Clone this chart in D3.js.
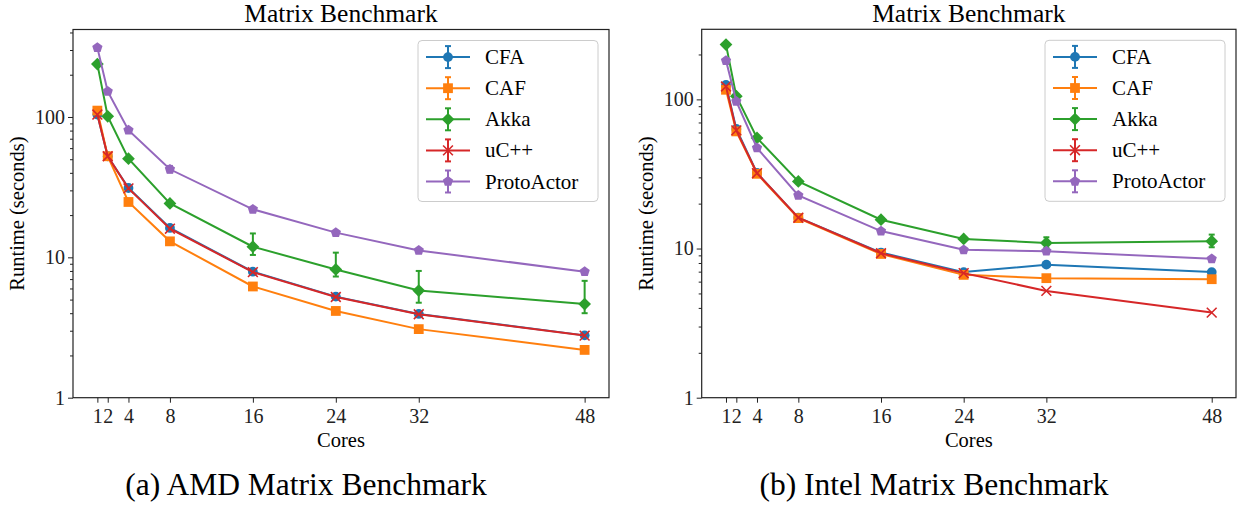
<!DOCTYPE html>
<html>
<head>
<meta charset="utf-8">
<script src="https://cdn.jsdelivr.net/npm/d3@7"></script>
<style>
body { margin: 0; background: #fff; }
svg text { font-family: "Liberation Serif", "Times New Roman", serif; }
</style>
</head>
<body>
<div id="chart"></div>
<script>
// data
var cores = [1, 2, 4, 8, 16, 24, 32, 48];
var seriesNames = ["CFA", "CAF", "Akka", "uC++", "ProtoActor"];
var colors = ["#1f77b4", "#ff7f0e", "#2ca02c", "#d62728", "#9467bd"];
var markers = ["circle", "square", "diamond", "x", "pentagon"];
var xTicks = [1, 2, 4, 8, 16, 24, 32, 48];
var yTicks = [1, 10, 100];

// AMD
var amdCFA   = [104, 52.5, 31.2, 16.2, 7.9, 5.25, 3.95, 2.78];
var amdCAF   = [111, 52.5, 24.8, 13.0, 6.2, 4.15, 3.08, 2.19];
var amdAkka  = [238, 101, 50.5, 24.2, 11.9, 8.2, 5.8, 4.65];
var amdUC    = [104, 52.5, 31.0, 16.0, 7.85, 5.22, 3.93, 2.77];
var amdProto = [312, 152, 80.5, 42.4, 22.0, 15.0, 11.2, 7.9];
// error bar bounds (null = no visible bar)
var amdAkkaLo  = [null, null, null, null, 10.4, 7.3, 4.75, 4.0];
var amdAkkaHi  = [null, null, null, null, 14.8, 10.8, 8.0, 6.8];
var amdProtoLo = [null, null, null, 40.3, null, null, null, null];
var amdProtoHi = [null, null, null, 44.8, null, null, null, null];

// Intel
var intCFA   = [125, 63.3, 32.1, 16.1, 9.4, 6.95, 7.8, 6.95];
var intCAF   = [116, 61, 31.7, 16.0, 9.2, 6.66, 6.33, 6.23];
var intAkka  = [233, 105, 55.1, 28.2, 15.6, 11.6, 10.9, 11.2];
var intUC    = [122, 62, 32.0, 16.1, 9.3, 6.84, 5.2, 3.72];
var intProto = [182, 97, 47.2, 22.7, 13.1, 9.8, 9.6, 8.53];
var intAkkaLo = [null, null, null, null, null, null, 10.1, 10.2];
var intAkkaHi = [null, null, null, null, null, null, 11.9, 12.4];

var panels = [
  { left: 73, top: 29.5, right: 609, bottom: 397.7, yMax: 420, title: "Matrix Benchmark",
    caption: "(a) AMD Matrix Benchmark", captionX: 306,
    values: [amdCFA, amdCAF, amdAkka, amdUC, amdProto],
    lo: [null, null, amdAkkaLo, null, amdProtoLo], hi: [null, null, amdAkkaHi, null, amdProtoHi] },
  { left: 701.7, top: 29.3, right: 1236, bottom: 397.7, yMax: 295, title: "Matrix Benchmark",
    caption: "(b) Intel Matrix Benchmark", captionX: 934,
    values: [intCFA, intCAF, intAkka, intUC, intProto],
    lo: [null, null, intAkkaLo, null, null], hi: [null, null, intAkkaHi, null, null] }
];

var svg = d3.select("#chart").append("svg").attr("width", 1238).attr("height", 506);

function markerPath(type, s) {
  if (type == "circle") return d3.symbol().type(d3.symbolCircle).size(Math.PI * s * s)();
  if (type == "square") return "M" + (-s) + "," + (-s) + "H" + s + "V" + s + "H" + (-s) + "Z";
  if (type == "diamond") { var d = s * 1.3; return "M0," + (-d) + "L" + d + ",0L0," + d + "L" + (-d) + ",0Z"; }
  if (type == "x") return "M" + (-s) + "," + (-s) + "L" + s + "," + s + "M" + (-s) + "," + s + "L" + s + "," + (-s);
  if (type == "pentagon") {
    var pts = [];
    for (var k = 0; k < 5; k++) {
      var a = -Math.PI / 2 + k * 2 * Math.PI / 5;
      pts.push([s * 1.1 * Math.cos(a), s * 1.1 * Math.sin(a)]);
    }
    return "M" + pts.map(function(p){ return p.join(","); }).join("L") + "Z";
  }
}

function drawMarker(g, type, color, x, y) {
  var p = g.append("path").attr("d", markerPath(type, 4.9)).attr("transform", "translate(" + x + "," + y + ")");
  if (type == "x") p.attr("fill", "none").attr("stroke", color).attr("stroke-width", 1.6);
  else p.attr("fill", color);
}

panels.forEach(function(P) {
  var g = svg.append("g");
  var x = d3.scaleLinear().domain([1 - 47 * 0.05, 48 + 47 * 0.05]).range([P.left, P.right]);
  var y = d3.scaleLog().domain([1, P.yMax]).range([P.bottom, P.top]);

  // axes
  var xAxis = g.append("g").attr("transform", "translate(0," + P.bottom + ")")
    .call(d3.axisBottom(x).tickValues(xTicks).tickSize(5).tickSizeOuter(0).tickFormat(d3.format("d")));
  var minor = [];
  for (var dec = 1; dec <= 100; dec *= 10)
    for (var m = 2; m <= 9; m++) if (dec * m <= P.yMax) minor.push(dec * m);
  g.append("g").attr("transform", "translate(" + P.left + ",0)")
    .call(d3.axisLeft(y).tickValues(minor).tickSize(3).tickSizeOuter(0).tickFormat(""))
    .call(function(s){ s.select(".domain").remove(); });
  var yAxis = g.append("g").attr("transform", "translate(" + P.left + ",0)")
    .call(d3.axisLeft(y).tickValues(yTicks).tickSize(5).tickSizeOuter(0).tickFormat(d3.format("d")));
  g.selectAll(".tick text").attr("font-size", 20).attr("fill", "#222")
    .style("font-family", "'Liberation Serif', serif");
  xAxis.selectAll(".tick text").attr("dy", "0.95em").attr("y", 6);
  yAxis.selectAll(".tick text").attr("x", -8);
  g.selectAll(".tick line").attr("stroke", "#222").attr("stroke-width", 1);
  g.selectAll(".domain").remove();

  g.append("rect").attr("x", P.left).attr("y", P.top)
    .attr("width", P.right - P.left).attr("height", P.bottom - P.top)
    .attr("fill", "none").attr("stroke", "#222").attr("stroke-width", 1.2);

  var cx = (P.left + P.right) / 2;
  g.append("text").attr("x", cx).attr("y", 22).attr("text-anchor", "middle")
    .attr("font-size", 25.5).text(P.title);
  g.append("text").attr("x", cx).attr("y", 447).attr("text-anchor", "middle")
    .attr("font-size", 20.5).text("Cores");
  g.append("text").attr("transform", "translate(" + (P.left - 49) + "," + ((P.top + P.bottom) / 2) + ") rotate(-90)")
    .attr("text-anchor", "middle").attr("font-size", 20.5).text("Runtime (seconds)");
  g.append("text").attr("x", P.captionX).attr("y", 495).attr("text-anchor", "middle")
    .attr("font-size", 31.5).text(P.caption);

  // series
  var line = d3.line().x(function(d){ return x(d[0]); }).y(function(d){ return y(d[1]); });
  P.values.forEach(function(vals, i) {
    var pts = cores.map(function(c, j){ return [c, vals[j]]; });
    var sg = g.append("g");
    sg.append("path").attr("d", line(pts)).attr("fill", "none")
      .attr("stroke", colors[i]).attr("stroke-width", 2);
    if (P.lo[i]) {
      cores.forEach(function(c, j) {
        if (P.lo[i][j] == null) return;
        var px = x(c), y0 = y(P.lo[i][j]), y1 = y(P.hi[i][j]);
        sg.append("line").attr("x1", px).attr("x2", px).attr("y1", y0).attr("y2", y1)
          .attr("stroke", colors[i]).attr("stroke-width", 2);
        [y0, y1].forEach(function(yy) {
          sg.append("line").attr("x1", px - 3).attr("x2", px + 3).attr("y1", yy).attr("y2", yy)
            .attr("stroke", colors[i]).attr("stroke-width", 2);
        });
      });
    }
    pts.forEach(function(p) { drawMarker(sg, markers[i], colors[i], x(p[0]), y(p[1])); });
  });

  // legend
  var lg = g.append("g").attr("transform", "translate(" + (P.right - 191) + "," + (P.top + 11) + ")");
  lg.append("rect").attr("width", 180).attr("height", 161).attr("rx", 4)
    .attr("fill", "#fff").attr("fill-opacity", 0.8).attr("stroke", "#ccc").attr("stroke-width", 1);
  seriesNames.forEach(function(name, i) {
    var yy = 16.6 + i * 31.1;
    lg.append("line").attr("x1", 8).attr("x2", 52).attr("y1", yy).attr("y2", yy)
      .attr("stroke", colors[i]).attr("stroke-width", 2);
    lg.append("line").attr("x1", 30).attr("x2", 30).attr("y1", yy - 11).attr("y2", yy + 11)
      .attr("stroke", colors[i]).attr("stroke-width", 2);
    [yy - 11, yy + 11].forEach(function(c) {
      lg.append("line").attr("x1", 27).attr("x2", 33).attr("y1", c).attr("y2", c)
        .attr("stroke", colors[i]).attr("stroke-width", 2);
    });
    drawMarker(lg, markers[i], colors[i], 30, yy);
    lg.append("text").attr("x", 67).attr("y", yy + 7).attr("font-size", 21).text(name);
  });
});
</script>
</body>
</html>
